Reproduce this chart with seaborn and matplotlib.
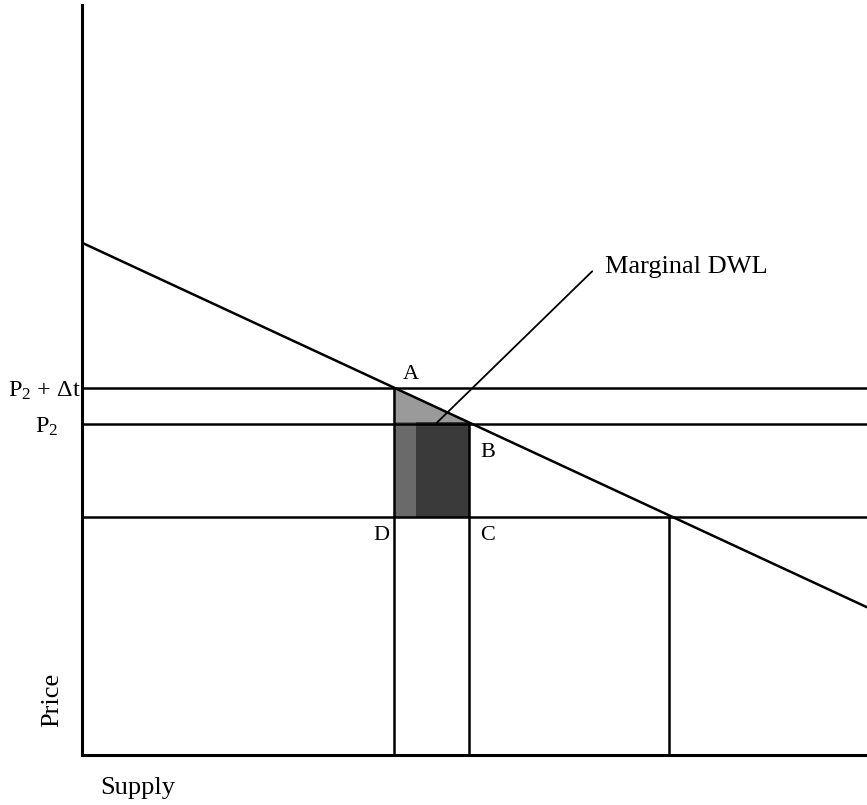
import numpy as np
import pandas as pd
import matplotlib.pyplot as plt
import seaborn as sns
from matplotlib.patches import Polygon

# demand curve end points (quantity, price) on a 0-100 scale
demand_q = [0.0, 100.0]
demand_p = [68.3, 19.7]

# price levels: P2 + dt, P2 and the lower (supply) price
price_levels = [48.9, 44.1, 31.7]
price_labels = ['P$_2$ + Δt', 'P$_2$', '']

# quantities where the verticals drop to the axis
quantities = [39.7, 49.3, 74.8]

# pointer to the shaded area
pointer_q = [45.2, 65.0]
pointer_p = [44.3, 64.5]


def demand(q):
    return demand_p[0] + (demand_p[1] - demand_p[0]) * (q - demand_q[0]) / (demand_q[1] - demand_q[0])


def main():
    sns.set_style('white')
    plt.rcParams['font.family'] = ['Liberation Serif', 'DejaVu Serif']
    plt.rcParams['text.color'] = 'black'
    plt.rcParams['mathtext.fontset'] = 'custom'
    plt.rcParams['mathtext.rm'] = 'Liberation Serif'
    plt.rcParams['mathtext.it'] = 'Liberation Serif:italic'

    fig = plt.figure(figsize=(8.67, 8.05), dpi=100)
    ax = fig.add_axes([82 / 867, 50 / 805, 785 / 867, 750 / 805])
    ax.set_xlim(0, 100)
    ax.set_ylim(0, 100)

    lw = 1.8
    df = pd.DataFrame({'q': demand_q, 'p': demand_p})
    sns.lineplot(data=df, x='q', y='p', color='black', lw=lw, ax=ax)

    # horizontal price lines
    for p in price_levels:
        ax.axhline(p, color='black', lw=lw)

    # vertical lines from the price lines down to the axis
    tops = [price_levels[0], price_levels[1], price_levels[2]]
    for q, top in zip(quantities, tops):
        ax.plot([q, q], [0, top], color='black', lw=lw)

    # shaded marginal DWL area
    qa, qb = quantities[0], quantities[1]
    pa, pb, pc = demand(qa), demand(qb), price_levels[2]
    ax.add_patch(Polygon([(qa, pb), (qa, pa), (qb, pb)], closed=True,
                         facecolor='#9a9a9a', edgecolor='none', zorder=1))
    ax.add_patch(Polygon([(qa, pc), (qa, pb), (qb, pb), (qb, pc)], closed=True,
                         facecolor='#3a3a3a', edgecolor='none', zorder=1))
    ax.add_patch(Polygon([(qa, pc), (qa, pb), (qa + 2.8, pb), (qa + 2.8, pc)], closed=True,
                         facecolor='#9a9a9a', edgecolor='none', zorder=1, alpha=0.5))

    ax.plot(pointer_q, pointer_p, color='black', lw=1.3)
    ax.text(66.6, 64.3, 'Marginal DWL', fontsize=19, ha='left', va='baseline')

    # point labels
    ax.text(40.9, 50.2, 'A', fontsize=16, ha='left', va='baseline')
    ax.text(50.7, 39.7, 'B', fontsize=16, ha='left', va='baseline')
    ax.text(50.7, 28.6, 'C', fontsize=16, ha='left', va='baseline')
    ax.text(39.2, 28.6, 'D', fontsize=16, ha='right', va='baseline')

    # price labels on the left
    ax.text(-0.2, 47.8, price_labels[0], fontsize=17.5, ha='right', va='baseline', clip_on=False)
    ax.text(-3.0, 43.0, price_labels[1], fontsize=17.5, ha='right', va='baseline', clip_on=False)

    ax.set_xticks([])
    ax.set_yticks([])
    ax.set_xlabel('')
    ax.set_ylabel('')
    for side in ['top', 'right']:
        ax.spines[side].set_visible(False)
    for side in ['left', 'bottom']:
        ax.spines[side].set_color('black')
        ax.spines[side].set_linewidth(2.2)

    fig.text(100 / 867, 1 - 794 / 805, 'Supply', fontsize=19, ha='left', va='baseline')
    fig.text(52 / 867, 1 - 700 / 805, 'Price', fontsize=19, rotation=90, ha='center', va='center')

    fig.savefig('out.png', dpi=100)
    plt.close(fig)


if __name__ == '__main__':
    main()
